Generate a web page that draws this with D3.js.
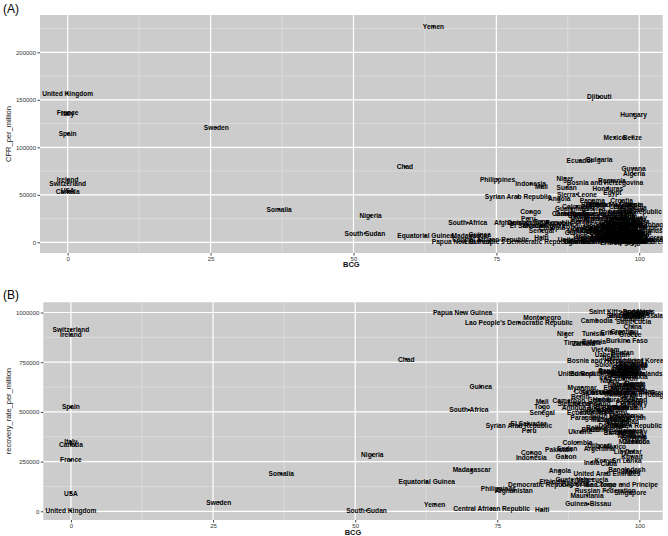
<!DOCTYPE html>
<html><head><meta charset="utf-8">
<script src="https://cdn.jsdelivr.net/npm/d3@7"></script>
<style>body{margin:0;background:#fff}svg{display:block}</style>
</head><body>
<script>
const countries = ["United Kingdom","France","Italy","Spain","Ireland","Switzerland","Canada","USA","Sweden","Somalia","Nigeria","South Sudan","Chad","Equatorial Guinea","Yemen","Papua New Guinea","South Africa","Madagascar","Guinea","Central African Republic","Philippines","Afghanistan","Lao People's Democratic Republic","Syrian Arab Republic","El Salvador","Peru","Congo","Indonesia","Mali","Togo","Senegal","Haiti","Montenegro","Ethiopia","Angola","Pakistan","Democratic Republic of the Congo","Gabon","Niger","Sudan","Cameroon","Guatemala","Uganda","Sierra Leone","Colombia","Ecuador","Ukraine","Benin","Myanmar","Zambia","Paraguay","Mauritania","Guinea-Bissau","Brazil","India","Venezuela","Tunisia","Estonia","Bulgaria","Djibouti","Argentina","Cambodia","Costa Rica","Comoros","Kenya","Viet Nam","Bosnia and Herzegovina","Russian Federation","United Arab Emirates","Cuba","Uzbekistan","Romania","Egypt","Mexico","Honduras","Chile","Namibia","Saint Kitts and Nevis","Croatia","Sao Tome and Principe","Lesotho","Serbia","Sri Lanka","Bangladesh","Burkina Faso","Kazakhstan","Jordan","Lebanon","Greece","Belarus","Singapore","Moldova","Kuwait","Belize","China","Qatar","Hungary","Guyana","Saint Lucia","Armenia","Algeria","Republic of Korea","Brunei Darussalam","Dominican Republic","Saint Vincent and the Grenadines","Azerbaijan","Georgia","Kyrgyzstan","Tajikistan","Turkmenistan","Mongolia","Nepal","Morocco","Iran","Iraq","Oman","Bahrain","Botswana","Zimbabwe","Malawi","Mozambique","Rwanda","Burundi","Ghana","Liberia","Eswatini","Bolivia","Panama","Nicaragua","Thailand","Malaysia","Albania","North Macedonia","Latvia","Lithuania","Poland","Japan","Cote d'Ivoire","Gambia","Cabo Verde","Maldives","Bhutan","Timor-Leste","Fiji","Eritrea","Mauritius","Uruguay","Jamaica","Libya","Kiribati","Samoa","Tonga","Vanuatu","Dominica","Grenada","Seychelles","Saudi Arabia","Turkey","Portugal","Slovakia","United Republic of Tanzania","Solomon Islands","Micronesia","Marshall Islands","Tuvalu","Nauru","Suriname","Trinidad and Tobago","Barbados","Bahamas","Antigua and Barbuda","Palau"];
const bcg = [0,0,0,0,0,0,0,0,26,37,53,52,59,62.6,64,68.9,70,70.5,72.1,74,75.2,77.9,78.8,78.8,80.5,80.6,81,81,82.9,82.9,82.9,82.9,82.9,84.7,86,85.8,86.4,87.1,87,87.3,87.6,88.2,88.9,89.1,89.1,89.6,89.6,89.6,89.9,90.2,90.5,90.8,91,91.4,91.6,91.7,91.9,92,93,93,92.9,92.5,93.7,93.9,93.9,94,94,94,94.3,94.6,95.2,95.2,95.3,95.7,94.5,96.1,96.7,96.9,96.9,96.9,96.9,97.5,97.8,97.8,97.8,97.5,96.5,97.3,98.4,98.4,98.4,98.5,98.7,98.8,98.8,98.9,99,99,99,99,99.1,99.3,99.9,98.4,99,97,96,98,98,99,98.5,94,98.8,98.5,94,99,98,95,95.6,96,95,97.5,90,98.5,89.4,97,92.5,91.8,98,99,98,99,96,96,97,93,98.5,92,93,96,99,97,90,99,95,97,99,99.5,97,99.5,99,99.2,98.6,99.7,99.4,97.2,96.3,95.8,98.2,99.1,93.4,96.8,97.9,99.6,95.1,94.8,97.6,99.3,96.4,98.9,92.2];
const cfrPerMillion = [156800,136400,135000,114300,65600,62100,53300,54500,120600,34700,28000,9500,79600,7000,227000,500,20600,6600,7500,3000,66300,20600,1000,48000,18000,25000,32000,61400,58500,22000,12000,5000,17000,15000,45600,20000,20600,30000,67400,57900,30000,35000,500,50500,38000,85900,28000,22000,12000,14000,30000,25000,10000,40000,15000,5000,30000,35000,87400,153000,25000,12000,20000,10000,8000,2000,62400,27000,6000,16000,5000,65300,52200,110500,56800,38000,30000,3000,43800,15000,32000,28000,4000,9000,18000,20000,24000,14000,40000,11000,1000,34700,7000,110500,4000,2000,134700,77900,10000,36000,71900,5000,3000,32000,500,12000,20000,12000,1000,500,1000,8000,24000,40000,30000,25000,18000,14000,18000,8000,5000,6000,1000,8000,30000,20000,40000,43800,10000,2000,8000,16000,40000,25000,30000,40000,4000,4000,11000,8000,500,200,200,100,100,5000,26000,22000,38000,1000,1500,700,900,3000,8000,2500,14000,26000,21000,17000,3000,6000,9500,12500,1500,4500,11000,19000,23000,7000,16000,2500];
const recoveryPerMillion = [3000,258000,349000,524000,889000,913000,335000,91000,45000,188000,283000,3000,765000,149000,35000,1000000,510000,208000,627000,13000,116000,104000,950000,430000,440000,406000,295000,272000,552000,524000,497000,7000,972000,149000,204000,309000,132000,275000,893000,317000,555000,158000,140000,540000,347000,497000,398000,577000,624000,842000,473000,79000,37000,409000,247000,161000,893000,851000,510000,330000,317000,960000,598000,413000,253000,812000,758000,104000,191000,238000,787000,700000,620000,325000,560000,430000,639000,1002000,904000,136000,481000,598000,255000,208000,857000,690000,680000,665000,888000,404000,94000,380000,275000,560000,929000,300000,540000,370000,955000,376000,640000,758000,983000,430000,598000,450000,440000,470000,520000,600000,720000,500000,350000,580000,670000,640000,720000,527000,460000,500000,460000,720000,690000,700000,540000,400000,420000,500000,639000,560000,620000,620000,480000,430000,520000,540000,200000,600000,560000,700000,730000,800000,850000,900000,900000,680000,400000,350000,300000,1000000,980000,990000,970000,1003000,995000,985000,705000,590000,545000,675000,690000,735000,610000,690000,775000,655000,710000,585000,395000,745000,520000,455000];
const xTicks = [0,25,50,75,100];
const xMinor = [12.5,37.5,62.5,87.5];
const cfrTicks = [0,50000,100000,150000,200000];
const cfrMinor = [25000,75000,125000,175000,225000];
const recTicks = [0,250000,500000,750000,1000000];
const recMinor = [125000,375000,625000,875000];

const data = countries.map((c,i)=>({name:c,bcg:bcg[i],cfr:cfrPerMillion[i],rec:recoveryPerMillion[i]}));

const W=668,H=536;
const FONT="Liberation Sans, Arial, sans-serif";
const svg=d3.select("body").append("svg").attr("width",W).attr("height",H);

function panel(cfg){
  const {id,left,right,top,bottom,xDom,yDom,key,yTicks,yMinor,ytitle,tag,tagY,xTitleY}=cfg;
  const x=d3.scaleLinear().domain(xDom).range([left,right]);
  const y=d3.scaleLinear().domain(yDom).range([bottom,top]);
  const g=svg.append("g");
  g.append("rect").attr("x",left).attr("y",top).attr("width",right-left).attr("height",bottom-top).attr("fill","#cccccc");
  svg.append("clipPath").attr("id",id).append("rect").attr("x",left).attr("y",top).attr("width",right-left).attr("height",bottom-top);
  g.selectAll(".mx").data(xMinor).join("line").attr("class","mx").attr("x1",d=>x(d)).attr("x2",d=>x(d)).attr("y1",top).attr("y2",bottom).attr("stroke","#e4e4e4").attr("stroke-width",0.6);
  g.selectAll(".my").data(yMinor).join("line").attr("class","my").attr("y1",d=>y(d)).attr("y2",d=>y(d)).attr("x1",left).attr("x2",right).attr("stroke","#e4e4e4").attr("stroke-width",0.6);
  g.selectAll(".gx").data(xTicks).join("line").attr("class","gx").attr("x1",d=>x(d)).attr("x2",d=>x(d)).attr("y1",top).attr("y2",bottom).attr("stroke","#fff").attr("stroke-width",1.2);
  g.selectAll(".gy").data(yTicks).join("line").attr("class","gy").attr("y1",d=>y(d)).attr("y2",d=>y(d)).attr("x1",left).attr("x2",right).attr("stroke","#fff").attr("stroke-width",1.2);
  const ax=g.append("g").attr("transform",`translate(0,${bottom})`).call(d3.axisBottom(x).tickValues(xTicks).tickSize(2.5).tickPadding(1.5).tickFormat(d3.format("d")));
  const ay=g.append("g").attr("transform",`translate(${left},0)`).call(d3.axisLeft(y).tickValues(yTicks).tickSize(2.5).tickPadding(1.5).tickFormat(d3.format("d")));
  [ax,ay].forEach(a=>{a.select(".domain").remove();a.selectAll("line").attr("stroke","#444");a.selectAll("text").attr("fill","#333").style("font-family",FONT).style("font-size","6px");});
  const m=g.append("g").attr("clip-path",`url(#${id})`);
  m.selectAll("circle").data(data).join("circle").attr("cx",d=>x(d.bcg)).attr("cy",d=>y(d[key])).attr("r",1.1).attr("fill","#000");
  m.selectAll("text").data(data).join("text").attr("x",d=>x(d.bcg)).attr("y",d=>y(d[key])).attr("dy","0.35em").attr("text-anchor","middle")
    .style("font-family",FONT).style("font-size","6.6px").style("font-weight","bold").attr("fill","#000").text(d=>d.name);
  g.append("text").attr("x",(left+right)/2).attr("y",xTitleY).attr("text-anchor","middle").style("font-family",FONT).style("font-size","7.5px").style("font-weight","bold").attr("fill","#111").text("BCG");
  g.append("text").attr("transform",`translate(11,${(top+bottom)/2}) rotate(-90)`).attr("text-anchor","middle").style("font-family",FONT).style("font-size","7.5px").attr("fill","#111").text(ytitle);
  g.append("text").attr("x",3).attr("y",tagY).style("font-family",FONT).style("font-size","12px").attr("fill","#000").text(tag);
}

panel({id:"clipA",left:40,right:662.7,top:15,bottom:253,xDom:[-4.84,104.1],yDom:[-11263,239263],key:"cfr",yTicks:cfrTicks,yMinor:cfrMinor,ytitle:"CFR_per_million",tag:"(A)",tagY:13,xTitleY:267});
panel({id:"clipB",left:43.3,right:662.7,top:302.3,bottom:520,xDom:[-4.86,104.1],yDom:[-43800,1051300],key:"rec",yTicks:recTicks,yMinor:recMinor,ytitle:"recovery_rate_per_million",tag:"(B)",tagY:299,xTitleY:535});
</script>
</body></html>
